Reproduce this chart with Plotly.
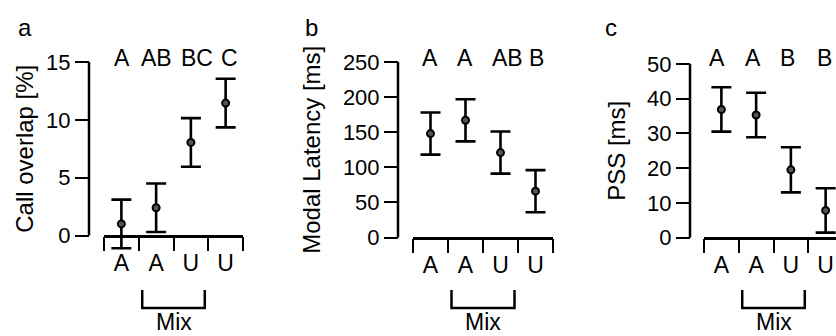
import plotly.graph_objects as go

W, H = 836, 336

# ---------------- data ----------------
categories = ["A", "A", "U", "U"]
group_label = "Mix"

a_mean = [1.0, 2.4, 8.05, 11.45]
a_err = [2.1, 2.1, 2.1, 2.1]
a_letters = ["A", "AB", "BC", "C"]
a_ticks = [0, 5, 10, 15]
a_title = "Call overlap [%]"

b_mean = [148, 167, 121, 66]
b_err = [30, 30, 30, 30]
b_letters = ["A", "A", "AB", "B"]
b_ticks = [0, 50, 100, 150, 200, 250]
b_title = "Modal Latency [ms]"

c_mean = [36.9, 35.3, 19.5, 7.8]
c_err = [6.4, 6.4, 6.5, 6.4]
c_letters = ["A", "A", "B", "B"]
c_ticks = [0, 10, 20, 30, 40, 50]
c_title = "PSS [ms]"

panel_names = ["a", "b", "c"]

# ---------------- layout helpers ----------------
def px(x):
    return x / W


def py(y):
    return 1 - y / H


FONT = "Liberation Sans, Arial, Helvetica, sans-serif"
TICK_FS = 22
TITLE_FS = 24
LET_FS = 23
CAT_FS = 23

# geometry per panel (pixels): y-axis x, x-domain left/right, y bottom/top, x-range max
panels = [
    dict(mean=a_mean, err=a_err, letters=a_letters, ticks=a_ticks, title=a_title,
         yx=89, xl=104, xr=243, yb=235.5, yt=62, xmax=4.0, standoff=4,
         shifts=[1, 0, 6, 4], label_x=25),
    dict(mean=b_mean, err=b_err, letters=b_letters, ticks=b_ticks, title=b_title,
         yx=398, xl=413, xr=553, yb=237.5, yt=62, xmax=4.0, standoff=14,
         shifts=[-1, -1, 7, 1], label_x=311),
    dict(mean=c_mean, err=c_err, letters=c_letters, ticks=c_ticks, title=c_title,
         yx=690, xl=704, xr=836, yb=237.5, yt=64, xmax=132 / 34.75, standoff=13,
         shifts=[-4, -3, -3, -1], label_x=611),
]

EXT = 25  # extra plotting room (px) beyond the axis span so whiskers are not clipped

fig = go.Figure()
layout = dict(
    width=W, height=H,
    margin=dict(l=0, r=0, t=0, b=0),
    paper_bgcolor="white", plot_bgcolor="white",
    showlegend=False,
    font=dict(family=FONT, color="black", size=TICK_FS),
)
annotations = []
shapes = []

xpos = [i + 0.5 for i in range(len(categories))]

for i, p in enumerate(panels):
    n = "" if i == 0 else str(i + 1)
    xa, ya = "x" + n, "y" + n
    ymax = p["ticks"][-1]
    per_px = ymax / (p["yb"] - p["yt"])
    fig.add_trace(go.Scatter(
        x=xpos, y=p["mean"], xaxis=xa, yaxis=ya,
        mode="markers", cliponaxis=False,
        marker=dict(symbol="circle", size=7, color="#555555",
                    line=dict(color="black", width=2)),
        error_y=dict(type="data", array=p["err"], visible=True,
                     color="black", thickness=2.6, width=10),
        hoverinfo="skip",
    ))
    layout["xaxis" + n] = dict(
        domain=[px(p["xl"]), px(p["xr"])], range=[0, p["xmax"]],
        anchor="free", position=py(p["yb"]),
        showgrid=False, zeroline=False,
        showline=True, linecolor="black", linewidth=2.5,
        tickmode="array", tickvals=xpos, ticktext=categories,
        ticks="outside", ticklen=6, tickcolor="rgba(0,0,0,0)",
        tickfont=dict(size=CAT_FS),
        minor=dict(tickmode="array", tickvals=[0, 1, 2, 3, 4],
                   ticks="outside", ticklen=14, tickwidth=1.5, tickcolor="black"),
        fixedrange=True, automargin=False,
    )
    layout["yaxis" + n] = dict(
        domain=[py(p["yb"] + EXT), py(p["yt"] - EXT)],
        range=[-EXT * per_px, ymax + EXT * per_px],
        anchor="free", position=px(p["yx"]),
        showgrid=False, zeroline=False, showline=False,
        tickmode="array", tickvals=p["ticks"],
        ticks="outside", ticklen=14, tickwidth=1.5, tickcolor="black",
        tickfont=dict(size=TICK_FS),
        title=dict(text=p["title"], font=dict(size=TITLE_FS), standoff=p["standoff"]),
        fixedrange=True, automargin=False,
    )
    # y axis spine from 0 to top value
    shapes.append(dict(
        type="line", xref="paper", yref=ya,
        x0=px(p["yx"]), x1=px(p["yx"]), y0=0, y1=ymax,
        line=dict(color="black", width=2.5),
    ))
    # significance letters
    for j, t in enumerate(p["letters"]):
        annotations.append(dict(
            x=xpos[j], y=py(58), xref=xa, yref="paper", text=t, showarrow=False,
            xanchor="center", yanchor="middle", xshift=p["shifts"][j],
            font=dict(size=LET_FS),
        ))
    # Mix bracket
    x0, x1 = 1.1, 2.9
    ytop, ybot = py(290), py(308)
    shapes.append(dict(
        type="path", xref=xa, yref="paper",
        path=f"M {x0},{ytop} L {x0},{ybot} L {x1},{ybot} L {x1},{ytop}",
        line=dict(color="black", width=2.5),
    ))
    annotations.append(dict(
        x=(x0 + x1) / 2, y=py(322), xref=xa, yref="paper", text=group_label,
        showarrow=False, xanchor="center", yanchor="middle",
        font=dict(size=CAT_FS),
    ))
    # panel label
    annotations.append(dict(
        x=px(p["label_x"]), y=py(27), xref="paper", yref="paper",
        text=panel_names[i], showarrow=False, xanchor="center", yanchor="middle",
        font=dict(size=24),
    ))

layout["annotations"] = annotations
layout["shapes"] = shapes
fig.update_layout(**layout)
fig.write_html("out.html")
